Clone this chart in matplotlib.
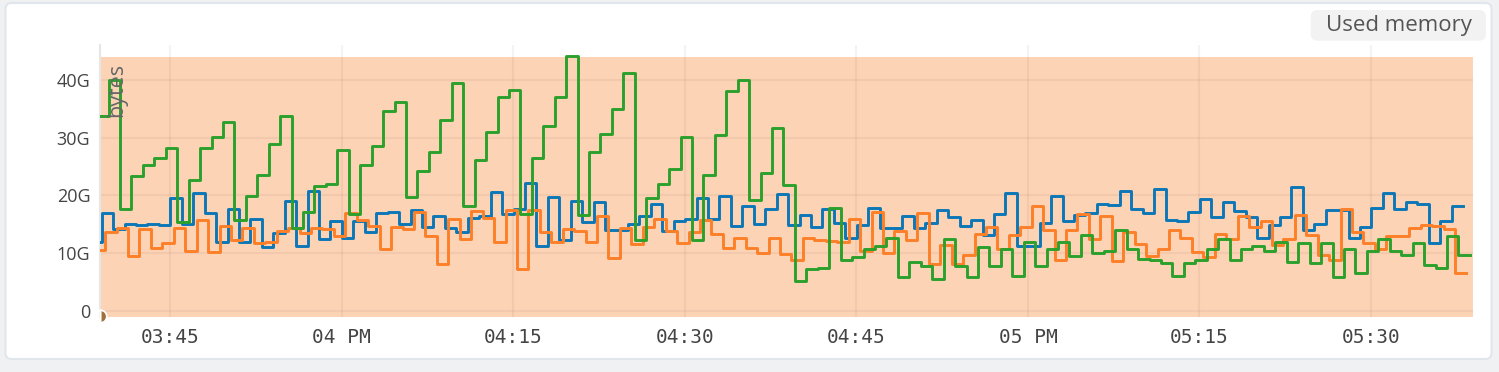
import numpy as np
import matplotlib
matplotlib.use('Agg')
import matplotlib.pyplot as plt
import matplotlib.dates as mdates
from matplotlib.patches import FancyBboxPatch

# one sample per minute, values in GB
green_vals = [
    33.8, 40.0, 17.6, 23.3, 25.3, 26.4, 28.3, 15.4, 22.6, 28.3,
    30.2, 32.8, 15.8, 19.9, 23.6, 28.9, 33.7, 14.3, 17.1, 21.7,
    22.0, 27.8, 16.7, 25.3, 28.6, 34.7, 36.1, 19.7, 24.2, 27.6,
    33.0, 39.5, 18.2, 26.2, 31.0, 37.1, 38.3, 16.7, 26.4, 32.1,
    37.1, 44.2, 16.6, 27.6, 30.7, 35.0, 41.2, 12.3, 19.5, 21.9,
    24.6, 30.2, 12.3, 23.6, 30.4, 38.0, 40.0, 19.2, 23.8, 31.6,
    21.8, 5.2, 7.2, 7.5, 17.9, 8.9, 9.4, 10.8, 11.3, 12.7,
    5.8, 8.4, 7.8, 5.5, 12.4, 7.8, 5.8, 11.1, 7.8, 10.7,
    6.1, 11.9, 7.8, 10.7, 11.9, 9.5, 13.1, 10.0, 10.3, 14.1,
    10.7, 9.0, 8.9, 8.3, 6.1, 8.3, 8.8, 10.8, 12.5, 8.9,
    10.7, 11.3, 10.4, 12.0, 8.4, 11.8, 8.3, 11.8, 5.9, 10.7,
    6.5, 10.3, 12.4, 10.3, 9.6, 11.8, 7.9, 7.4, 13.0, 9.6,
]
blue_vals = [
    12.0, 16.9, 14.2, 15.0, 14.8, 15.1, 14.8, 19.6, 15.0, 20.5,
    17.0, 12.0, 17.7, 11.9, 15.9, 11.1, 13.5, 19.1, 11.2, 20.7,
    12.5, 15.6, 12.7, 15.6, 13.7, 16.9, 17.2, 15.1, 17.5, 14.5,
    16.5, 14.3, 13.7, 16.1, 16.4, 20.6, 16.7, 17.6, 22.1, 11.2,
    19.8, 12.3, 19.1, 15.4, 18.9, 14.0, 14.1, 15.0, 16.5, 18.5,
    13.8, 15.5, 16.0, 19.6, 15.9, 19.9, 14.7, 18.2, 15.1, 17.6,
    20.2, 14.8, 16.6, 14.6, 17.6, 15.3, 12.6, 14.9, 17.9, 14.4,
    14.3, 16.5, 14.3, 15.3, 17.5, 16.2, 14.7, 15.7, 13.2, 16.7,
    20.5, 11.3, 11.3, 15.3, 19.9, 15.6, 16.6, 17.0, 18.5, 18.3,
    20.8, 17.7, 16.9, 21.1, 15.8, 15.6, 17.1, 19.4, 16.3, 18.8,
    17.3, 16.2, 12.6, 14.8, 16.2, 21.5, 14.0, 15.1, 17.4, 17.5,
    12.6, 14.6, 17.8, 20.5, 17.7, 18.8, 18.5, 11.7, 15.6, 18.2,
]
orange_vals = [
    10.5, 13.6, 14.4, 9.5, 14.2, 10.9, 11.7, 14.4, 10.4, 15.8,
    10.2, 14.7, 12.3, 14.4, 11.7, 11.9, 13.8, 14.4, 13.5, 14.3,
    14.2, 12.9, 16.9, 15.7, 14.7, 10.8, 14.5, 14.2, 17.1, 12.9,
    8.1, 15.9, 12.4, 17.3, 16.1, 12.0, 17.5, 7.3, 17.4, 13.7,
    11.9, 14.2, 13.8, 12.0, 16.5, 9.2, 14.4, 11.6, 14.6, 15.9,
    13.9, 11.8, 13.6, 15.8, 13.4, 10.9, 12.6, 10.9, 10.1, 12.7,
    9.8, 8.8, 12.7, 12.2, 12.1, 12.0, 16.0, 10.4, 17.1, 10.0,
    13.9, 12.3, 16.9, 8.2, 11.4, 8.1, 9.6, 13.4, 14.6, 10.7,
    13.1, 14.6, 18.2, 14.0, 8.8, 14.0, 16.8, 12.4, 16.5, 8.7,
    13.7, 11.6, 9.5, 10.7, 14.1, 12.6, 10.2, 9.3, 13.4, 12.4,
    16.4, 14.6, 15.6, 11.4, 12.4, 16.6, 13.1, 9.7, 8.8, 17.6,
    13.6, 11.8, 10.8, 13.0, 13.0, 14.3, 14.9, 14.7, 14.2, 6.5,
]

# first scrape time of each series
blue_start = '2024-01-01T15:38:02'
orange_start = '2024-01-01T15:38:20'
green_start = '2024-01-01T15:38:38'

view_start = np.datetime64('2024-01-01T15:38:53')
view_end = np.datetime64('2024-01-01T17:38:53')
tick_times = np.arange(np.datetime64('2024-01-01T15:45'),
                       np.datetime64('2024-01-01T17:31'),
                       np.timedelta64(15, 'm'))
y_ticks = [0, 10, 20, 30, 40]


def step_series(start, vals):
    t = np.datetime64(start) + np.arange(len(vals) + 1) * np.timedelta64(60, 's')
    v = list(vals) + [vals[-1]]
    return mdates.date2num(t.astype('datetime64[s]').astype(object)), v


def tick_label(t):
    d = t.astype(object)
    if d.minute == 0:
        return d.strftime('%I %p')
    return d.strftime('%I:%M')


fig = plt.figure(figsize=(14.99, 3.72), dpi=100)
fig.patch.set_facecolor('#f0f1f3')

# white card
card = FancyBboxPatch((0.055, 0.13), 14.86, 3.56,
                      boxstyle='round,pad=0,rounding_size=0.06',
                      transform=fig.dpi_scale_trans,
                      fc='white', ec='#e1e6ed', lw=1.5, zorder=-2)
fig.patches.append(card)

# "Used memory" pill
pill = FancyBboxPatch((13.107, 3.313), 1.753, 0.307,
                      boxstyle='round,pad=0,rounding_size=0.07',
                      transform=fig.dpi_scale_trans,
                      fc='#f2f2f2', ec='none', zorder=-1)
fig.patches.append(pill)
fig.text(13.985, 3.46, 'Used memory', transform=fig.dpi_scale_trans,
         ha='center', va='center', fontsize=16, family='Open Sans',
         color='#555555')

ax = fig.add_axes([100 / 1499, 1 - 317 / 372, 1372.7 / 1499, 272 / 372])
ax.set_zorder(2)
ax.set_facecolor('none')
ax.axhspan(-1.05, 43.9, color='#fdd3b5', zorder=0, lw=0)

colors = {'blue': '#0b77b7', 'orange': '#fd7f28', 'green': '#2ca02c'}
for start, vals, c in [(blue_start, blue_vals, colors['blue']),
                       (orange_start, orange_vals, colors['orange']),
                       (green_start, green_vals, colors['green'])]:
    t, v = step_series(start, vals)
    ax.plot(t, v, drawstyle='steps-post', color=c, lw=2.1, zorder=3)

ax.set_xlim(mdates.date2num(view_start.astype(object)),
            mdates.date2num(view_end.astype(object)))
ax.set_ylim(-1.05, 46.05)

ax.set_xticks(mdates.date2num(tick_times.astype(object)))
ax.set_xticklabels([tick_label(t) for t in tick_times],
                   family='DejaVu Sans Mono', fontsize=14, color='#444444')
ax.set_yticks(y_ticks)
ax.set_yticklabels([('%dG' % y) if y else '0' for y in y_ticks],
                   family='Open Sans', fontsize=13, color='#444444')
ax.tick_params(axis='both', length=0)
ax.tick_params(axis='y', pad=7)
ax.tick_params(axis='x', pad=8)

ax.set_axisbelow(True)
ax.grid(True, color='black', alpha=0.045, lw=1.6)
for s in ['top', 'right', 'bottom']:
    ax.spines[s].set_visible(False)
ax.spines['left'].set_color('#e6e6e6')
ax.spines['left'].set_linewidth(1.5)

ax.text(0.0122, 0.835, 'bytes', transform=ax.transAxes, rotation=90,
        ha='center', va='center', fontsize=15.5, family='Open Sans',
        color='#666666', zorder=4)

# small origin marker
ax.plot([ax.get_xlim()[0]], [-0.9], marker='o', ms=9, fillstyle='right',
        mfc='#a0703c', markerfacecoloralt='none', mec='white', mew=1.2,
        clip_on=False, zorder=5)

fig.savefig('out.png', dpi=100, facecolor=fig.get_facecolor())
